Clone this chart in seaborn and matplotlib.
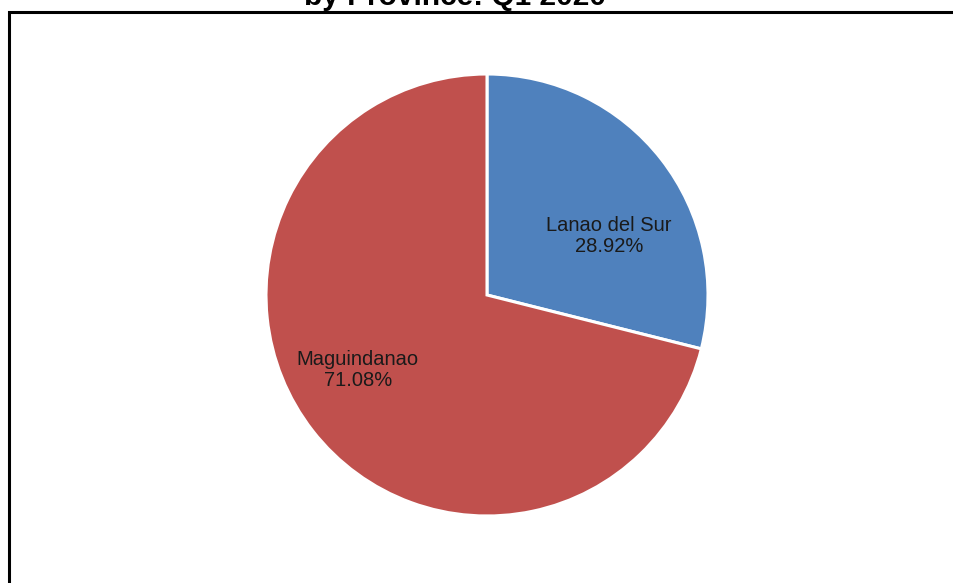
import seaborn as sns
import matplotlib.pyplot as plt
from matplotlib.patches import Rectangle

sns.set_theme(style='white')
plt.rcParams['font.family'] = ['Liberation Sans', 'DejaVu Sans']

# 데이터
provinces = ['Lanao del Sur', 'Maguindanao']
shares = [28.92, 71.08]
colors = ['#4F81BD', '#C0504D']
title = 'by Province: Q1 2020'

W, H = 954, 583
fig = plt.figure(figsize=(W / 100, H / 100), dpi=100)
fig.patch.set_facecolor('white')

# 바깥 테두리 (오른쪽/아래는 잘려 있음)
fig.patches.append(Rectangle((9 / W, -0.2), 1.2, 1.2 - 12 / H,
                             transform=fig.transFigure, fill=False,
                             edgecolor='black', linewidth=2.2, clip_on=False))

# 파이 차트
cx, cy, r = 487, 295, 221
ax = fig.add_axes([(cx - r) / W, (H - cy - r) / H, 2 * r / W, 2 * r / H])
wedges, _ = ax.pie(shares, colors=colors, startangle=90, counterclock=False,
                   radius=1, wedgeprops=dict(edgecolor='white', linewidth=2.2))
ax.set_xlim(-1, 1)
ax.set_ylim(-1, 1)
ax.set_aspect('equal')
ax.axis('off')

label_pos = [(0.552, 0.267), (-0.584, -0.340)]
for name, val, (x, y) in zip(provinces, shares, label_pos):
    ax.text(x, y, f'{name}\n{val:.2f}%', ha='center', va='center',
            fontsize=14.5, color='#1a1a1a', linespacing=1.15)

# 제목 (위쪽이 잘려 있음)
fig.text(455 / W, 1 - 5 / H, title, ha='center', va='baseline',
         fontsize=21.5, fontweight='bold', color='black')

plt.savefig('out.png', dpi=100)
